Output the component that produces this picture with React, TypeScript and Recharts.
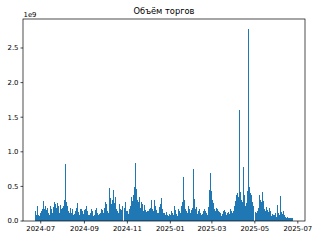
import { BarChart, Bar, XAxis, YAxis } from "recharts";

// daily trading volume, in units of 1e9, one array per month (first day given)
const jun2024 = [0.14, 0.09, 0.21, 0.12, 0.08, 0.07, 0.1];
const jul2024 = [0.12, 0.15, 0.18, 0.26, 0.29, 0.17, 0.1, 0.22, 0.16, 0.13, 0.19, 0.11, 0.09, 0.46, 0.21, 0.18, 0.15, 0.12, 0.2, 0.09, 0.28, 0.24, 0.19, 0.16, 0.26, 0.22, 0.14, 0.11, 0.23, 0.18, 0.15];
const aug2024 = [0.19, 0.22, 0.17, 0.31, 0.82, 0.36, 0.28, 0.21, 0.14, 0.09, 0.12, 0.19, 0.15, 0.11, 0.17, 0.13, 0.08, 0.1, 0.15, 0.24, 0.19, 0.26, 0.21, 0.13, 0.09, 0.17, 0.22, 0.18, 0.14, 0.16, 0.1];
const sep2024 = [0.16, 0.13, 0.18, 0.21, 0.14, 0.17, 0.09, 0.08, 0.15, 0.12, 0.18, 0.14, 0.1, 0.07, 0.09, 0.13, 0.16, 0.19, 0.15, 0.12, 0.08, 0.1, 0.14, 0.11, 0.17, 0.2, 0.16, 0.12, 0.09, 0.19];
const oct2024 = [0.28, 0.24, 0.19, 0.15, 0.11, 0.29, 0.47, 0.33, 0.25, 0.21, 0.3, 0.45, 0.38, 0.26, 0.34, 0.22, 0.18, 0.14, 0.12, 0.2, 0.25, 0.17, 0.13, 0.16, 0.22, 0.11, 0.09, 0.19, 0.28, 0.21, 0.15];
const nov2024 = [0.15, 0.12, 0.1, 0.17, 0.21, 0.26, 0.34, 0.29, 0.22, 0.38, 0.49, 0.42, 0.84, 0.46, 0.31, 0.24, 0.27, 0.35, 0.22, 0.19, 0.28, 0.25, 0.18, 0.14, 0.23, 0.2, 0.16, 0.13, 0.19, 0.15];
const dec2024 = [0.14, 0.18, 0.22, 0.19, 0.31, 0.27, 0.17, 0.15, 0.47, 0.3, 0.21, 0.16, 0.13, 0.11, 0.12, 0.18, 0.2, 0.24, 0.33, 0.26, 0.17, 0.12, 0.14, 0.11, 0.08, 0.1, 0.13, 0.09, 0.07, 0.12, 0.1];
const jan2025 = [0.09, 0.12, 0.15, 0.11, 0.08, 0.18, 0.21, 0.16, 0.13, 0.1, 0.07, 0.09, 0.17, 0.14, 0.12, 0.19, 0.22, 0.28, 0.35, 0.63, 0.3, 0.24, 0.18, 0.15, 0.11, 0.09, 0.21, 0.17, 0.13, 0.12, 0.16];
const feb2025 = [0.19, 0.24, 0.75, 0.32, 0.22, 0.17, 0.2, 0.12, 0.1, 0.14, 0.18, 0.13, 0.11, 0.09, 0.08, 0.1, 0.15, 0.12, 0.17, 0.14, 0.11, 0.13, 0.09, 0.2, 0.29, 0.45, 0.69, 0.43];
const mar2025 = [0.22, 0.3, 0.26, 0.21, 0.18, 0.14, 0.12, 0.19, 0.17, 0.15, 0.2, 0.13, 0.11, 0.09, 0.07, 0.1, 0.14, 0.12, 0.16, 0.13, 0.09, 0.08, 0.11, 0.15, 0.13, 0.1, 0.17, 0.28, 0.14, 0.12, 0.18];
const apr2025 = [0.14, 0.21, 0.33, 0.29, 0.37, 0.41, 0.45, 0.34, 1.6, 0.47, 0.42, 0.31, 0.27, 0.35, 0.78, 0.38, 0.29, 0.22, 0.26, 0.33, 0.44, 2.78, 0.49, 0.46, 0.41, 0.38, 0.3, 0.27, 0.21, 0.18];
const may2025 = [0.17, 0.13, 0.11, 0.09, 0.14, 0.19, 0.22, 0.38, 0.31, 0.27, 0.33, 0.42, 0.29, 0.24, 0.18, 0.15, 0.12, 0.2, 0.16, 0.13, 0.23, 0.19, 0.14, 0.09, 0.07, 0.1, 0.08, 0.12, 0.09, 0.11, 0.07];
const jun2025 = [0.06, 0.23, 0.14, 0.11, 0.09, 0.36, 0.18, 0.13, 0.1, 0.12, 0.14, 0.08, 0.07, 0.06, 0.05, 0.06, 0.05, 0.04, 0.05, 0.06, 0.05, 0.04, 0.05];

const months: [string, number[]][] = [
  ["2024-06-24", jun2024],
  ["2024-07-01", jul2024],
  ["2024-08-01", aug2024],
  ["2024-09-01", sep2024],
  ["2024-10-01", oct2024],
  ["2024-11-01", nov2024],
  ["2024-12-01", dec2024],
  ["2025-01-01", jan2025],
  ["2025-02-01", feb2025],
  ["2025-03-01", mar2025],
  ["2025-04-01", apr2025],
  ["2025-05-01", may2025],
  ["2025-06-01", jun2025],
];

const tickMonths = ["2024-07", "2024-09", "2024-11", "2025-01", "2025-03", "2025-05", "2025-07"];
const yTicks = [0, 0.5, 1, 1.5, 2, 2.5];

const DAY = 86400000;
const toDay = (s: string) => Date.parse(s + "T00:00:00Z") / DAY;

const data = months.flatMap(([start, vals]) =>
  vals.map((v, i) => ({ day: toDay(start) + i, volume: v }))
);

const first = data[0].day;
const last = data[data.length - 1].day;
const pad = (last - first) * 0.05;
const maxV = Math.max(...data.map((d) => d.volume));

const fmtMonth = (d: number) => new Date(d * DAY).toISOString().slice(0, 7);

const font = "DejaVu Sans, sans-serif";

export default function App() {
  return (
    <div style={{ position: "fixed", left: 0, top: 0, width: 320, height: 240, background: "#fff" }}>
      <BarChart
        width={320}
        height={240}
        data={data}
        margin={{ top: 19, right: 15, left: 0, bottom: 0 }}
      >
        <XAxis
          dataKey="day"
          type="number"
          domain={[first - pad, last + pad]}
          ticks={tickMonths.map((m) => toDay(m + "-01"))}
          tickFormatter={fmtMonth}
          allowDataOverflow
          height={19}
          axisLine={false}
          tickSize={2.5}
          tickMargin={2.5}
          tickLine={{ stroke: "#000", strokeWidth: 0.7 }}
          tick={{ fontSize: 6.9, fill: "#000", fontFamily: font }}
        />
        <YAxis
          type="number"
          domain={[0, maxV * 1.05]}
          ticks={yTicks}
          tickFormatter={(v: number) => v.toFixed(1)}
          width={23}
          axisLine={false}
          tickSize={2.5}
          tickMargin={2}
          tickLine={{ stroke: "#000", strokeWidth: 0.7 }}
          tick={{ fontSize: 6.9, fill: "#000", fontFamily: font }}
        />
        <Bar dataKey="volume" fill="#1f77b4" barSize={0.7} shapeRendering="crispEdges" isAnimationActive={false} />
      </BarChart>
      <svg
        width={320}
        height={240}
        style={{ position: "absolute", left: 0, top: 0, pointerEvents: "none" }}
      >
        <rect x={23} y={19} width={282} height={202} fill="none" stroke="#000" strokeWidth={0.7} />
        <text x={164} y={13.5} textAnchor="middle" fontSize={8.3} fontFamily={font} fill="#000">
          Объём торгов
        </text>
        <text x={23.5} y={17} fontSize={6.9} fontFamily={font} fill="#000">
          1e9
        </text>
      </svg>
    </div>
  );
}
